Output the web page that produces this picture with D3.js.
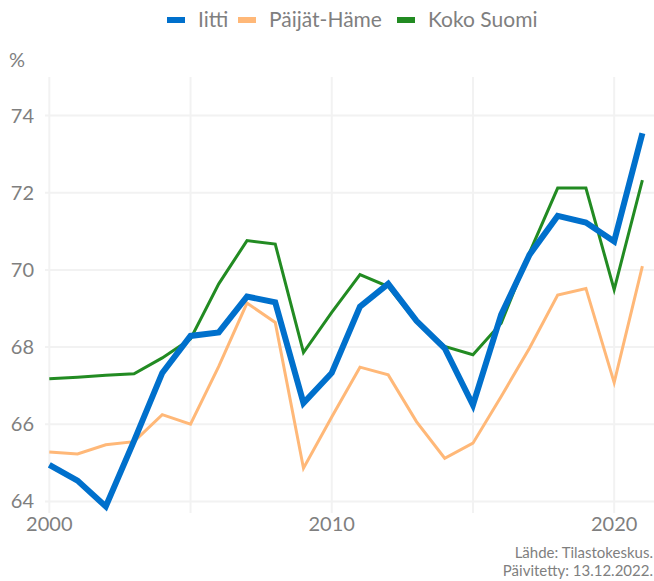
<!DOCTYPE html>
<html><head><meta charset="utf-8">
<script src="https://cdn.jsdelivr.net/npm/d3@7"></script>
<style>body{margin:0;background:#fff}svg{display:block;font-family:Lato,"Open Sans",sans-serif}</style>
</head><body>
<svg id="c" width="654" height="581"></svg>
<script>
const years = d3.range(2000, 2022);
const iitti = [64.95,64.54,63.87,65.57,67.33,68.29,68.38,69.31,69.16,66.55,67.33,69.05,69.64,68.68,67.97,66.5,68.84,70.39,71.40,71.23,70.74,73.54];
const paijatHame = [65.28,65.23,65.47,65.55,66.25,66.0,67.5,69.14,68.64,64.86,66.19,67.48,67.28,66.07,65.12,65.51,66.72,67.97,69.35,69.52,67.08,70.1];
const kokoSuomi = [67.18,67.22,67.27,67.31,67.72,68.21,69.64,70.76,70.67,67.86,68.9,69.88,69.57,68.65,68.02,67.80,68.62,70.44,72.12,72.12,69.49,72.33];
const seriesNames = ["Iitti","Päijät-Häme","Koko Suomi"];
const colors = ["#0070cc","#ffb878","#228b22"];
const widths = [6,3,3];
const yTicks = [64,66,68,70,72,74];
const xTicks = [2000,2010,2020];
const xGrid = [2000,2005,2010,2015,2020];

const svg = d3.select("#c");
const x = d3.scaleLinear().domain([2000,2021]).range([49.3,642.4]);
const y = d3.scaleLinear().domain([63.7,75]).range([513,77]);
const grey = "#7f7f7f";

const g = svg.append("g");
g.selectAll(".hg").data(yTicks).join("line")
  .attr("x1", 45).attr("x2", 654)
  .attr("y1", d=>y(d)).attr("y2", d=>y(d))
  .attr("stroke","#f2f2f2").attr("stroke-width",2);
g.selectAll(".vg").data(xGrid).join("line")
  .attr("x1", d=>x(d)).attr("x2", d=>x(d))
  .attr("y1", 77).attr("y2", 513)
  .attr("stroke","#f2f2f2").attr("stroke-width",2);

g.selectAll(".yl").data(yTicks).join("text")
  .attr("x",34).attr("y",d=>y(d)+7)
  .attr("text-anchor","end").attr("font-size",20).attr("fill",grey)
  .text(d=>d);
g.selectAll(".xl").data(xTicks).join("text")
  .attr("x",d=>x(d)).attr("y",531)
  .attr("text-anchor","middle").attr("font-size",20).attr("fill",grey)
  .text(d=>d);
svg.append("text").attr("x",9).attr("y",67).attr("font-size",20).attr("fill",grey).text("%");

const data = [iitti, paijatHame, kokoSuomi];
const line = d3.line().x((d,i)=>x(years[i])).y(d=>y(d)).curve(d3.curveLinear);
const order = [1,2,0];
order.forEach(k=>{
  svg.append("path").datum(data[k]).attr("d",line)
    .attr("fill","none").attr("stroke",colors[k]).attr("stroke-width",widths[k])
    .attr("stroke-linejoin","miter");
});

const legendX = [167,238,397];
const lg = svg.append("g");
seriesNames.forEach((n,i)=>{
  lg.append("line").attr("x1",legendX[i]).attr("x2",legendX[i]+18)
    .attr("y1",20).attr("y2",20).attr("stroke",colors[i]).attr("stroke-width",6);
  lg.append("text").attr("x",legendX[i]+31).attr("y",27).attr("font-size",21)
    .attr("fill",grey).text(n);
});

svg.append("text").attr("x",653).attr("y",558).attr("text-anchor","end")
  .attr("font-size",15).attr("fill",grey).text("Lähde: Tilastokeskus.");
svg.append("text").attr("x",653).attr("y",576).attr("text-anchor","end")
  .attr("font-size",15).attr("fill",grey).text("Päivitetty: 13.12.2022.");
</script>
</body></html>
